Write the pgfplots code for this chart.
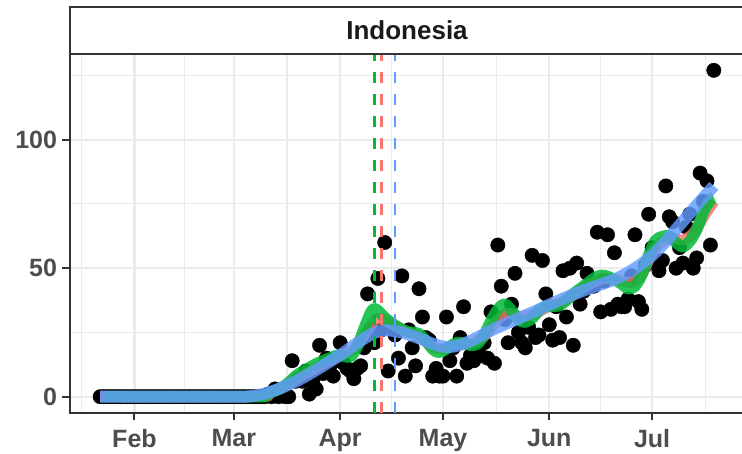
\documentclass[border=0pt]{standalone}
\usepackage{fontspec}
\setmainfont{Liberation Sans}
\usepackage{pgfplots}
\pgfplotsset{compat=1.18}
\definecolor{gA}{HTML}{00BA38}
\definecolor{rA}{HTML}{F8766D}
\definecolor{bA}{HTML}{619CFF}
\definecolor{gridc}{HTML}{EBEBEB}
\definecolor{axc}{HTML}{333333}
\definecolor{tickc}{HTML}{4D4D4D}
\definecolor{titc}{HTML}{1A1A1A}
\pgfplotstableread{
d y
21 0
22 0
23 0
24 0
25 0
26 0
27 0
28 0
29 0
30 0
31 0
32 0
33 0
34 0
35 0
36 0
37 0
38 0
39 0
40 0
41 0
42 0
43 0
44 0
45 0
46 0
47 0
48 0
49 0
50 0
51 0
52 0
53 0
54 0
55 0
56 0
57 0
58 0
59 0
60 0
61 0
62 0
63 0
64 0
65 0
66 0
67 0
68 0
69 0
70 1
71 0
72 3
73 0
74 1
75 0
76 0
77 14
78 6
79 7
80 6
81 10
82 1
83 6
84 3
85 20
86 9
87 15
88 12
89 8
90 14
91 21
92 13
93 11
94 10
95 7
96 11
97 12
98 19
99 40
100 26
101 21
102 46
103 26
104 60
105 10
106 27
107 24
108 15
109 47
110 8
111 26
112 19
113 12
114 42
115 31
116 23
117 22
118 8
119 11
120 8
121 8
122 31
123 14
124 19
125 8
126 23
127 35
128 13
129 16
130 14
131 18
132 16
133 21
134 15
135 33
136 13
137 59
138 43
139 30
140 21
141 36
142 48
143 25
144 21
145 19
146 27
147 55
148 23
149 24
150 53
151 40
152 28
153 22
154 35
155 23
156 49
157 31
158 50
159 20
160 52
161 36
162 41
163 48
164 43
165 43
166 64
167 33
168 45
169 63
170 34
171 56
172 36
173 35
174 35
175 38
176 47
177 63
178 37
179 34
180 51
181 71
182 58
183 53
184 49
185 53
186 82
187 70
188 68
189 50
190 58
191 52
192 66
193 71
194 50
195 54
196 87
197 76
198 84
199 59
200 127
}\deaths
\begin{document}
\begin{tikzpicture}[x=1pt,y=1pt]
\useasboundingbox (0,0) rectangle (742,453);
\begin{axis}[
  at={(69.5pt,40pt)}, anchor=south west,
  scale only axis, width=675pt, height=359pt,
  xmin=12.05, xmax=208.95, ymin=-6.35, ymax=133.35,
  axis line style={axc, line width=2pt},
  xtick={31,60,91,121,152,182},
  xticklabels={Feb,Mar,Apr,May,Jun,Jul},
  minor xtick={15.5,45.5,75.5,106,136.5,167,197.5},
  ytick={0,50,100}, yticklabels={0,50,100},
  minor ytick={25,75,125},
  tick pos=left,
  tick align=outside, major tick length=7pt, minor tick length=0pt,
  tick style={axc, line width=2pt},
  grid=both,
  major grid style={gridc, line width=2.2pt},
  minor grid style={gridc, line width=1.1pt},
  ticklabel style={font=\fontsize{25}{30}\selectfont\bfseries, text=tickc},
  xticklabel style={yshift=-6pt},
  yticklabel style={xshift=-2pt},
  clip marker paths=true,
]
\addplot[only marks, mark=*, mark size=7.2pt, black] table[x=d, y=y] {\deaths};
\addplot[rA, opacity=0.85, line width=11pt, smooth, line join=round] coordinates {
(21,0) (66,0) (70,1.2) (75,4.3) (80,8.3) (85,12) (90,15.5) (95,18.5) (98,24) (101,29.5) (103,30.5) (106,28.3) (110,25.5) (114,23.5) (118,19.5) (121,18.5) (125,20.3) (129,20.5) (133,23.5) (137,30) (140,32.5) (144,31) (148,32.5) (152,35.2) (156,37) (160,40.5) (164,44) (168,46) (172,45.5) (176,44.5) (179,47.5) (182,56) (185,60.5) (188,61.5) (191,61) (194,63.5) (197,70) (200,76)};
\addplot[gA, opacity=0.85, line width=11.5pt, smooth, line join=round] coordinates {
(22,0) (66,0) (68,0.3) (70,1.2) (72,2.3) (74,3.5) (76,5.5) (78,8) (80,9.8) (82,11.3) (84,12.8) (86,14) (88,15) (90,16) (92,15.8) (94,15.5) (96,19.5) (98,26.5) (100,33) (101,34.2) (102,33.5) (104,30.8) (106,28.7) (108,27) (110,25.5) (112,25) (114,24.5) (116,21.8) (118,18.5) (119.5,17.3) (121,17.8) (123,19.5) (125,21) (127,20.8) (129,20) (131,20.5) (133,24) (135,29.5) (137,34) (139,36) (141,33.5) (143,30) (145,29) (147,30.5) (149,33.5) (151,35.2) (153,35.2) (155,35.5) (157,37.5) (159,40) (161,42) (163,44) (165,46) (167,47.2) (169,46.8) (171,45.5) (173,44) (175,42) (177,43) (179,47.5) (181,55) (183,60.8) (185,62.3) (187,62.5) (189,60) (191,58.3) (193,60.5) (195,65) (197,72) (199,76.5) (200,77.5)};
\addplot[bA, opacity=0.82, line width=12pt, smooth, line join=round] coordinates {
(21,0) (60,0) (64,0.1) (67,0.6) (70,1.6) (73,3) (76,4.7) (79,6.6) (82,8.8) (85,11.2) (88,13.7) (91,16.2) (94,19) (97,21.8) (100,24.2) (102,25.3) (104,25.8) (106,25.7) (109,25) (112,23.7) (115,22.2) (118,20.6) (121,19.5) (124,19.5) (127,20.6) (130,22.3) (133,24.4) (136,26.4) (139,28.2) (142,29.9) (145,31.6) (148,33.3) (151,35.2) (154,37) (157,38.7) (160,40.3) (163,41.8) (166,43.2) (169,44.6) (172,46.2) (175,48.3) (178,50.8) (181,53.8) (184,57.5) (187,62) (190,66.7) (193,71.4) (196,76) (198,79) (200,82)};
\addplot[gA, line width=2.8pt, dash pattern=on 11pt off 11pt] coordinates {(101,-6.35) (101,133.35)};
\addplot[rA, line width=2.8pt, dash pattern=on 11pt off 11pt] coordinates {(103,-6.35) (103,133.35)};
\addplot[bA, line width=2.8pt, dash pattern=on 11pt off 11pt] coordinates {(107,-6.35) (107,133.35)};
\end{axis}
\draw[axc, line width=2pt, fill=white] (69.5,399) rectangle (744.5,446);
\node[anchor=base, text=titc, font=\fontsize{26}{30}\selectfont\bfseries, inner sep=0pt] at (407,413.5) {Indonesia};
\end{tikzpicture}
\end{document}
